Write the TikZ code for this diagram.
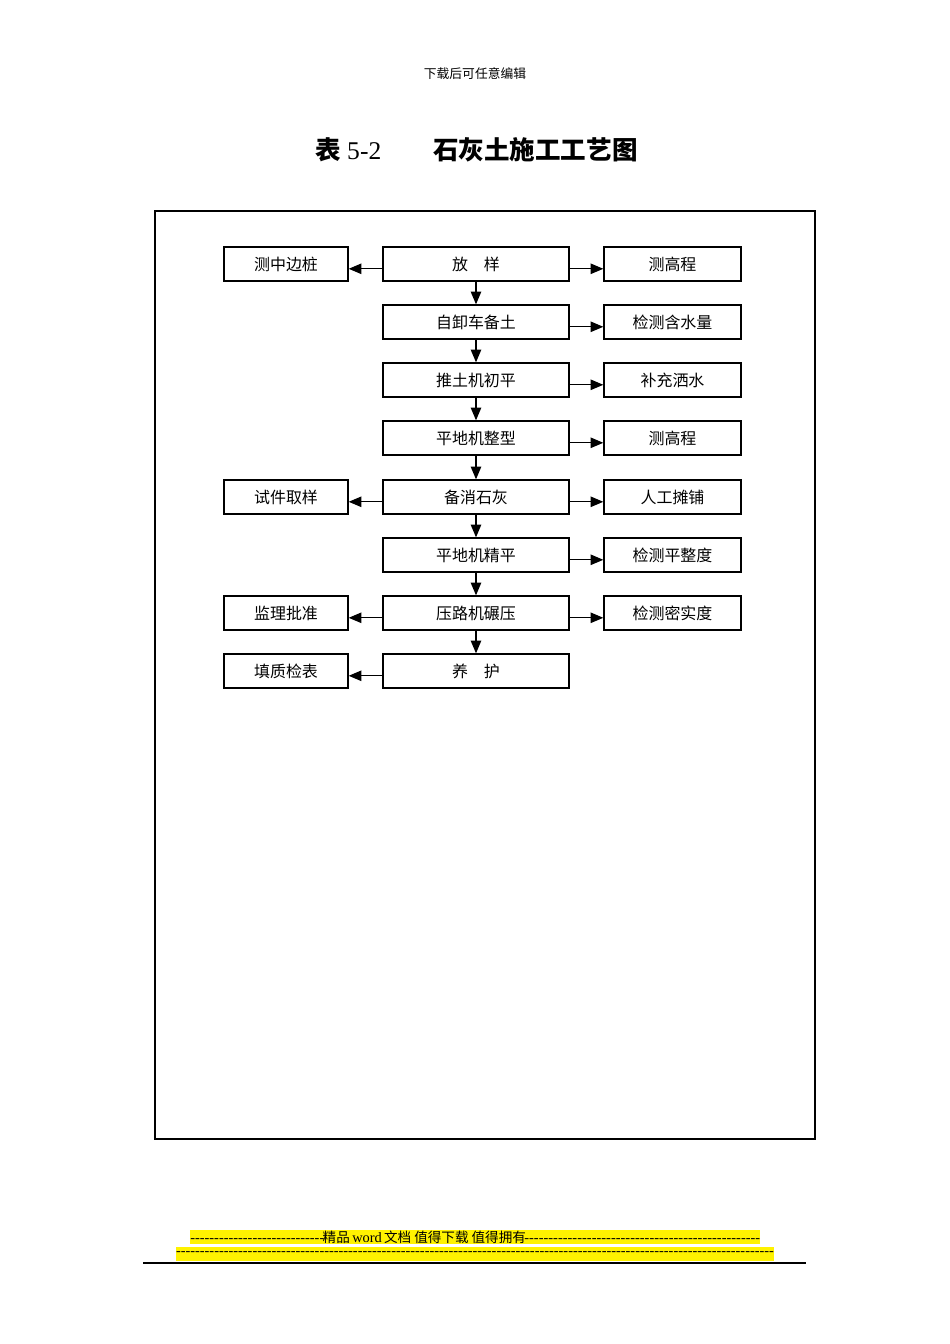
\documentclass[tikz,border=0pt]{standalone}
\usepackage{fontspec}
\setmainfont{Liberation Serif}
\newfontfamily\cjk{Noto Sans CJK SC}
\usepackage{tikz}
\usetikzlibrary{arrows}
\newdimen\pxu \pxu=0.6266pt
\tikzstyle{arrow} = [line width=0.8pt,->,>=triangle 45]
\tikzstyle{mbox} = [draw,line width=0.9pt,minimum width=186\pxu,minimum height=34\pxu,inner sep=0pt,font=\cjk\fontsize{10}{12}\selectfont]
\tikzstyle{lbox} = [mbox,minimum width=124\pxu]
\tikzstyle{rbox} = [mbox,minimum width=137\pxu]

\begin{document}
\begin{tikzpicture}[x=0.6266pt,y=-0.6266pt]
            \useasboundingbox (0,0) rectangle (950,1344);
            \node (head) at (475,74) {\cjk\fontsize{8}{10}\selectfont 下载后可任意编辑};
            \node[anchor=west,inner sep=0pt] (tnum) at (315,150) {\fontsize{16}{19}\selectfont{\cjk\bfseries 表} 5-2};
            \node[anchor=west,inner sep=0pt] (ttext) at (433,150) {\cjk\bfseries\fontsize{16}{19}\selectfont 石灰土施工工艺图};
            \draw [line width=1.3pt] (155,211) rectangle (815,1139);
            \node[mbox] (m1) at (476,264) {放　样};
            \node[mbox] (m2) at (476,322) {自卸车备土};
            \node[mbox] (m3) at (476,380) {推土机初平};
            \node[mbox] (m4) at (476,438) {平地机整型};
            \node[mbox] (m5) at (476,497) {备消石灰};
            \node[mbox] (m6) at (476,555) {平地机精平};
            \node[mbox] (m7) at (476,613) {压路机碾压};
            \node[mbox] (m8) at (476,671) {养　护};
            \node[lbox] (l1) at (286,264) {测中边桩};
            \node[lbox] (l5) at (286,497) {试件取样};
            \node[lbox] (l7) at (286,613) {监理批准};
            \node[lbox] (l8) at (286,671) {填质检表};
            \node[rbox] (r1) at (672.5,264) {测高程};
            \node[rbox] (r2) at (672.5,322) {检测含水量};
            \node[rbox] (r3) at (672.5,380) {补充洒水};
            \node[rbox] (r4) at (672.5,438) {测高程};
            \node[rbox] (r5) at (672.5,497) {人工摊铺};
            \node[rbox] (r6) at (672.5,555) {检测平整度};
            \node[rbox] (r7) at (672.5,613) {检测密实度};
            \draw [arrow] (m1) -- (m2);
            \draw [arrow] (m2) -- (m3);
            \draw [arrow] (m3) -- (m4);
            \draw [arrow] (m4) -- (m5);
            \draw [arrow] (m5) -- (m6);
            \draw [arrow] (m6) -- (m7);
            \draw [arrow] (m7) -- (m8);
            \draw [arrow] ([yshift=-3pt]m1.west) -- ([yshift=-3pt]l1.east);
            \draw [arrow] ([yshift=-3pt]m5.west) -- ([yshift=-3pt]l5.east);
            \draw [arrow] ([yshift=-3pt]m7.west) -- ([yshift=-3pt]l7.east);
            \draw [arrow] ([yshift=-3pt]m8.west) -- ([yshift=-3pt]l8.east);
            \draw [arrow] ([yshift=-3pt]m1.east) -- ([yshift=-3pt]r1.west);
            \draw [arrow] ([yshift=-3pt]m2.east) -- ([yshift=-3pt]r2.west);
            \draw [arrow] ([yshift=-3pt]m3.east) -- ([yshift=-3pt]r3.west);
            \draw [arrow] ([yshift=-3pt]m4.east) -- ([yshift=-3pt]r4.west);
            \draw [arrow] ([yshift=-3pt]m5.east) -- ([yshift=-3pt]r5.west);
            \draw [arrow] ([yshift=-3pt]m6.east) -- ([yshift=-3pt]r6.west);
            \draw [arrow] ([yshift=-3pt]m7.east) -- ([yshift=-3pt]r7.west);
            \node[fill=yellow,inner sep=0pt,minimum height=14\pxu,anchor=west,font=\fontsize{9}{10}\selectfont] (foot1) at (190,1237) {\makebox[134\pxu]{\xleaders\hbox{-}\hfill}\makebox[200\pxu]{{\cjk\fontsize{8.5}{10}\selectfont 精品}\,word\,{\cjk\fontsize{8.5}{10}\selectfont 文档 值得下载 值得拥有}}\makebox[236\pxu]{\xleaders\hbox{-}\hfill}};
            \node[fill=yellow,inner sep=0pt,minimum height=14\pxu,font=\fontsize{9}{10}\selectfont] (foot2) at (475,1254) {\makebox[598\pxu]{\xleaders\hbox{-}\hfill}};
            \draw [line width=1pt] (143,1263) -- (806,1263);
        \end{tikzpicture}
\end{document}
